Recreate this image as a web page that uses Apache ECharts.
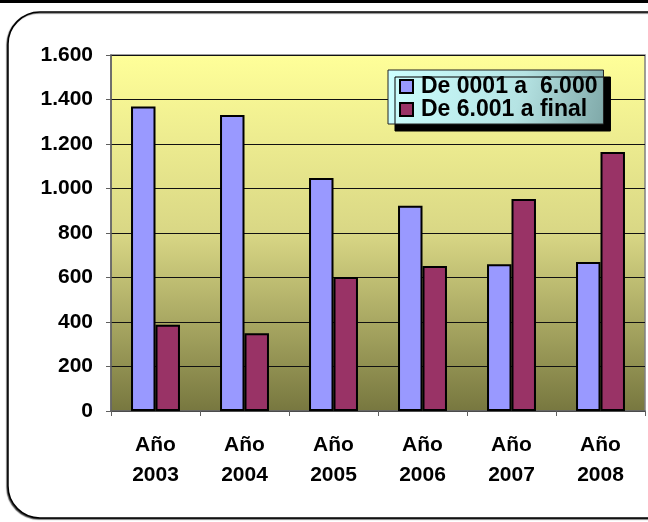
<!DOCTYPE html>
<html>
<head>
<meta charset="utf-8">
<script src="https://cdn.jsdelivr.net/npm/echarts@6/dist/echarts.min.js"></script>
<style>html,body{margin:0;padding:0;background:#fff;}#c{width:648px;height:522px;}</style>
</head>
<body>
<div id="c"></div>
<script>
var categories = ['Año\n2003', 'Año\n2004', 'Año\n2005', 'Año\n2006', 'Año\n2007', 'Año\n2008'];
var seriesNames = ['De 0001 a  6.000', 'De 6.001 a final'];
var serie1 = [1368, 1330, 1047, 922, 660, 670];
var serie2 = [388, 350, 602, 652, 953, 1164];
var yTicks = [0, 200, 400, 600, 800, 1000, 1200, 1400, 1600];

function fmt(v) { return String(v).replace(/\B(?=(\d{3})+(?!\d))/g, '.'); }

var chart = echarts.init(document.getElementById('c'));
var font = 'Arial, "Liberation Sans", sans-serif';
chart.setOption({
  animation: false,
  backgroundColor: '#fff',
  graphic: [
    { type: 'rect', z: -10, shape: { x: 0, y: 0, width: 648, height: 3 }, style: { fill: '#000' } },
    { type: 'rect', z: -10, shape: { x: 8, y: 12, width: 680, height: 506, r: 32 }, style: { fill: '#fff', stroke: '#000', lineWidth: 1.5, shadowColor: 'rgba(0,0,0,0.6)', shadowOffsetX: -1, shadowOffsetY: 1, shadowBlur: 1 } }
  ],
  grid: {
    left: 111, right: 3, top: 55, bottom: 111,
    show: true,
    borderColor: '#808080', borderWidth: 1.5,
    backgroundColor: new echarts.graphic.LinearGradient(0, 0, 0, 1, [
      { offset: 0, color: '#FFFF99' },
      { offset: 0.5, color: '#D9D785' },
      { offset: 1, color: '#77773F' }
    ])
  },
  legend: {
    orient: 'vertical',
    left: 388, top: 70,
    padding: [5, 6, 3, 11],
    icon: 'rect',
    itemWidth: 13, itemHeight: 13, itemGap: 0,
    backgroundColor: new echarts.graphic.LinearGradient(0, 0, 1, 1, [
      { offset: 0, color: '#CCFFFF' },
      { offset: 0.6, color: '#B5E3E3' },
      { offset: 1, color: '#7FA8A8' }
    ]),
    borderColor: '#222', borderWidth: 1,
    shadowColor: '#000', shadowOffsetX: 7, shadowOffsetY: 7, shadowBlur: 0,
    textStyle: { fontFamily: font, fontWeight: 'bold', fontSize: 23, lineHeight: 22, color: '#000', padding: [0, 0, 0, 3] },
    data: seriesNames
  },
  xAxis: {
    type: 'category',
    data: categories,
    axisLine: { show: true, lineStyle: { color: '#606060', width: 1.5 } },
    axisTick: { show: true, length: 5, lineStyle: { color: '#606060' } },
    axisLabel: { fontFamily: font, fontWeight: 'bold', fontSize: 21, color: '#000', lineHeight: 30, margin: 19 },
    splitLine: { show: false }
  },
  yAxis: {
    type: 'value',
    min: 0, max: 1600, interval: 200,
    axisLine: { show: true, lineStyle: { color: '#606060', width: 1.5 } },
    axisTick: { show: true, length: 5, lineStyle: { color: '#606060' } },
    axisLabel: { fontFamily: font, fontWeight: 'bold', fontSize: 21, color: '#000', margin: 18,
      formatter: function (v) { return fmt(v); } },
    splitLine: { show: true, lineStyle: { color: '#111', width: 1.2 } }
  },
  series: [
    { name: seriesNames[0], type: 'bar', data: serie1, barGap: '0%', barCategoryGap: '45%',
      itemStyle: { color: '#9999FF', borderColor: '#000', borderWidth: 2 } },
    { name: seriesNames[1], type: 'bar', data: serie2,
      itemStyle: { color: '#993366', borderColor: '#000', borderWidth: 2 } }
  ]
});
</script>
</body>
</html>
